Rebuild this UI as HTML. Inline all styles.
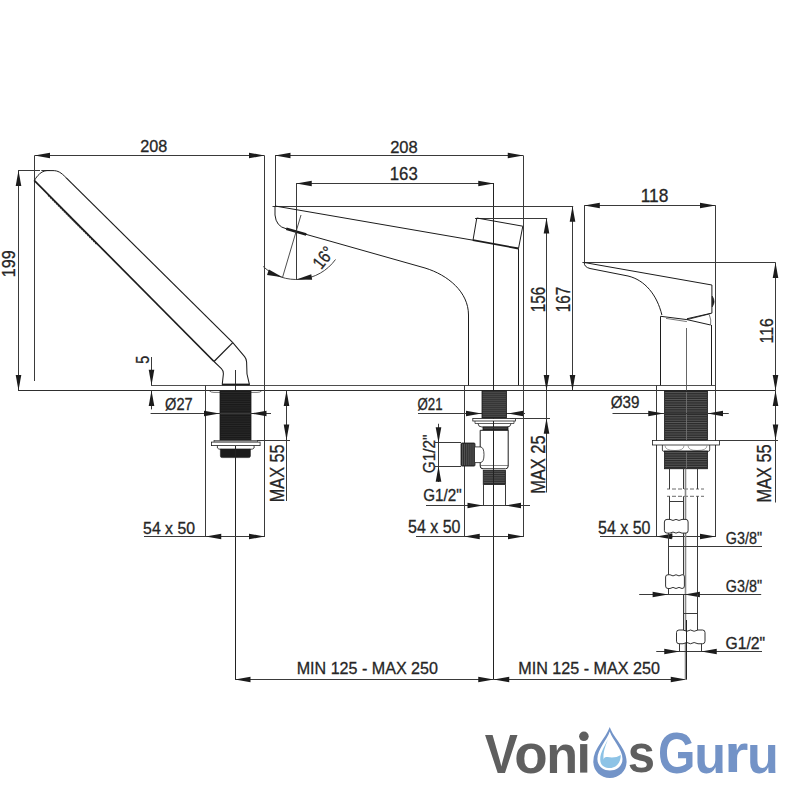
<!DOCTYPE html>
<html><head><meta charset="utf-8"><style>
html,body{margin:0;padding:0;background:#fff;width:800px;height:800px;overflow:hidden}
svg{display:block}
text{font-family:"Liberation Sans",sans-serif}
</style></head><body>
<svg width="800" height="800" viewBox="0 0 800 800">
<rect width="800" height="800" fill="#fff"/>
<line x1="151" y1="385.5" x2="715.6" y2="385.5" stroke="#3a3a3a" stroke-width="0.9"/>
<line x1="18" y1="390.5" x2="775.6" y2="390.5" stroke="#2e2e2e" stroke-width="1"/>
<line x1="34.5" y1="155.5" x2="264.5" y2="155.5" stroke="#3a3a3a" stroke-width="1"/>
<path d="M34.5,155.5 L50,152.7 L50,158.3 Z" fill="#1c1c1c"/>
<path d="M264.5,155.5 L249,158.3 L249,152.7 Z" fill="#1c1c1c"/>
<text transform="translate(140.19,152.34) scale(1.0173,1)" font-size="15.915" fill="#262626" stroke="#262626" stroke-width="0.3">208</text>
<line x1="34.5" y1="155.6" x2="34.5" y2="381" stroke="#3a3a3a" stroke-width="1"/>
<line x1="264.5" y1="155.6" x2="264.5" y2="537" stroke="#3a3a3a" stroke-width="1"/>
<line x1="18.5" y1="170.5" x2="18.5" y2="390.6" stroke="#3a3a3a" stroke-width="1"/>
<path d="M18.5,170.5 L21.3,186 L15.7,186 Z" fill="#1c1c1c"/>
<path d="M18.5,390.6 L15.7,375.1 L21.3,375.1 Z" fill="#1c1c1c"/>
<line x1="18" y1="170.5" x2="40" y2="170.5" stroke="#3a3a3a" stroke-width="1"/>
<line x1="41.3" y1="170.5" x2="50" y2="170.5" stroke="#3a3a3a" stroke-width="1"/>
<text transform="translate(15.31,277.21) rotate(-90) scale(0.8510,1)" font-size="19.014" fill="#262626" stroke="#262626" stroke-width="0.3">199</text>
<path d="M66,177.6 L232.8,342.6" stroke="#1c1c1c" stroke-width="1.15" fill="none"/>
<path d="M34.2,180.3 L214,361.5" stroke="#1c1c1c" stroke-width="1.7" fill="none"/>
<path d="M34.5,180.3 C37,176 41,171 47,170.6 L53,170.6 C58,170.6 61,172.5 66,177.6" stroke="#1c1c1c" stroke-width="1" fill="none"/>
<path d="M48,195.4 L97.5,245.2" stroke="#1c1c1c" stroke-width="1.1" fill="none" stroke-dasharray="1.5,1.3"/>
<path d="M214,361.5 L232.8,342.6" stroke="#1c1c1c" stroke-width="1.25" fill="none"/>
<path d="M232.8,342.6 L244.6,356.6 Q246.5,359 246.6,362 L247,374 L249.5,384.8" stroke="#1c1c1c" stroke-width="1.05" fill="none"/>
<path d="M214,361.5 L221.4,368.6 Q223.6,370.8 223.4,373.8 L222.2,384.8" stroke="#1c1c1c" stroke-width="1.05" fill="none"/>
<line x1="222" y1="384.5" x2="249.5" y2="384.5" stroke="#1c1c1c" stroke-width="1.8"/>
<line x1="235.5" y1="370" x2="235.5" y2="390.6" stroke="#1c1c1c" stroke-width="0.9"/>
<line x1="205.5" y1="385.3" x2="205.5" y2="537" stroke="#3a3a3a" stroke-width="1"/>
<path d="M209.5,391 Q211,392.4 214,392.4 L257,392.4 Q260,392.4 261.5,391" stroke="#1c1c1c" stroke-width="0.6" fill="none"/>
<rect x="220" y="391" width="31" height="49.8" fill="#1b1b1b" stroke="#1c1c1c" stroke-width="0.8"/>
<line x1="220.6" y1="392.54" x2="250.4" y2="392.54" stroke="#3a3a3a" stroke-width="0.45"/>
<line x1="220.6" y1="394.74" x2="250.4" y2="394.74" stroke="#3a3a3a" stroke-width="0.45"/>
<line x1="220.6" y1="396.94" x2="250.4" y2="396.94" stroke="#3a3a3a" stroke-width="0.45"/>
<line x1="220.6" y1="399.14" x2="250.4" y2="399.14" stroke="#3a3a3a" stroke-width="0.45"/>
<line x1="220.6" y1="401.34" x2="250.4" y2="401.34" stroke="#3a3a3a" stroke-width="0.45"/>
<line x1="220.6" y1="403.54" x2="250.4" y2="403.54" stroke="#3a3a3a" stroke-width="0.45"/>
<line x1="220.6" y1="405.74" x2="250.4" y2="405.74" stroke="#3a3a3a" stroke-width="0.45"/>
<line x1="220.6" y1="407.94" x2="250.4" y2="407.94" stroke="#3a3a3a" stroke-width="0.45"/>
<line x1="220.6" y1="410.14" x2="250.4" y2="410.14" stroke="#3a3a3a" stroke-width="0.45"/>
<line x1="220.6" y1="412.34" x2="250.4" y2="412.34" stroke="#3a3a3a" stroke-width="0.45"/>
<line x1="220.6" y1="414.54" x2="250.4" y2="414.54" stroke="#3a3a3a" stroke-width="0.45"/>
<line x1="220.6" y1="416.74" x2="250.4" y2="416.74" stroke="#3a3a3a" stroke-width="0.45"/>
<line x1="220.6" y1="418.94" x2="250.4" y2="418.94" stroke="#3a3a3a" stroke-width="0.45"/>
<line x1="220.6" y1="421.14" x2="250.4" y2="421.14" stroke="#3a3a3a" stroke-width="0.45"/>
<line x1="220.6" y1="423.34" x2="250.4" y2="423.34" stroke="#3a3a3a" stroke-width="0.45"/>
<line x1="220.6" y1="425.54" x2="250.4" y2="425.54" stroke="#3a3a3a" stroke-width="0.45"/>
<line x1="220.6" y1="427.74" x2="250.4" y2="427.74" stroke="#3a3a3a" stroke-width="0.45"/>
<line x1="220.6" y1="429.94" x2="250.4" y2="429.94" stroke="#3a3a3a" stroke-width="0.45"/>
<line x1="220.6" y1="432.14" x2="250.4" y2="432.14" stroke="#3a3a3a" stroke-width="0.45"/>
<line x1="220.6" y1="434.34" x2="250.4" y2="434.34" stroke="#3a3a3a" stroke-width="0.45"/>
<line x1="220.6" y1="436.54" x2="250.4" y2="436.54" stroke="#3a3a3a" stroke-width="0.45"/>
<line x1="220.6" y1="438.74" x2="250.4" y2="438.74" stroke="#3a3a3a" stroke-width="0.45"/>
<rect x="214" y="440.4" width="43.5" height="1.6" fill="#fff" stroke="#1c1c1c" stroke-width="0.6"/>
<rect x="211.4" y="442.1" width="48.7" height="3.5" fill="#fff" stroke="#1c1c1c" stroke-width="0.8"/>
<path d="M217.4,445.6 L217.4,448 Q218,449.4 222,449.4 L249,449.4 Q253.5,449.4 254.1,448 L254.1,445.6" stroke="#1c1c1c" stroke-width="0.8" fill="none"/>
<path d="M220.4,449 L250.4,449 L250.4,456 Q250.4,457.6 248.5,457.6 L222.3,457.6 Q220.4,457.6 220.4,456 Z" stroke="#1c1c1c" stroke-width="0.6" fill="#1b1b1b"/>
<line x1="235.5" y1="446" x2="235.5" y2="679.25" stroke="#222" stroke-width="1"/>
<line x1="151.5" y1="357" x2="151.5" y2="385.3" stroke="#3a3a3a" stroke-width="1"/>
<path d="M151.5,385.3 L148.7,369.8 L154.3,369.8 Z" fill="#1c1c1c"/>
<line x1="151.5" y1="390.6" x2="151.5" y2="409.4" stroke="#3a3a3a" stroke-width="1"/>
<path d="M151.5,390.6 L154.3,406.1 L148.7,406.1 Z" fill="#1c1c1c"/>
<text transform="translate(148.81,363.68) rotate(-90) scale(0.7533,1)" font-size="19.143" fill="#262626" stroke="#262626" stroke-width="0.3">5</text>
<line x1="150.6" y1="413.5" x2="271" y2="413.5" stroke="#3a3a3a" stroke-width="1"/>
<path d="M219.5,413.5 L204,416.3 L204,410.7 Z" fill="#1c1c1c"/>
<path d="M251,413.5 L266.5,410.7 L266.5,416.3 Z" fill="#1c1c1c"/>
<text transform="translate(165.09,410.18) scale(0.8684,1)" font-size="16.779" fill="#262626" stroke="#262626" stroke-width="0.3">Ø27</text>
<line x1="286.5" y1="390.6" x2="286.5" y2="501" stroke="#3a3a3a" stroke-width="1"/>
<path d="M286.5,390.6 L289.3,406.1 L283.7,406.1 Z" fill="#1c1c1c"/>
<path d="M286.5,440 L283.7,424.5 L289.3,424.5 Z" fill="#1c1c1c"/>
<line x1="257" y1="440.5" x2="290" y2="440.5" stroke="#3a3a3a" stroke-width="1"/>
<text transform="translate(283.55,502.3) rotate(-90) scale(0.8008,1)" font-size="20.357" fill="#262626" stroke="#262626" stroke-width="0.3">MAX 55</text>
<line x1="144" y1="536.5" x2="264.5" y2="536.5" stroke="#3a3a3a" stroke-width="1"/>
<path d="M205.75,536.5 L221.25,533.7 L221.25,539.3 Z" fill="#1c1c1c"/>
<path d="M264.5,536.5 L249,539.3 L249,533.7 Z" fill="#1c1c1c"/>
<text transform="translate(143.12,533.84) scale(0.9776,1)" font-size="16.197" fill="#262626" stroke="#262626" stroke-width="0.3">54 x 50</text>
<line x1="235" y1="679.5" x2="493.75" y2="679.5" stroke="#3a3a3a" stroke-width="1"/>
<path d="M235,679.5 L250.5,676.7 L250.5,682.3 Z" fill="#1c1c1c"/>
<path d="M493.75,679.5 L478.25,682.3 L478.25,676.7 Z" fill="#1c1c1c"/>
<text transform="translate(296.71,674.08) scale(0.9331,1)" font-size="17.254" fill="#262626" stroke="#262626" stroke-width="0.3">MIN 125 - MAX 250</text>
<line x1="275" y1="155.5" x2="523.25" y2="155.5" stroke="#3a3a3a" stroke-width="1"/>
<path d="M275,155.5 L290.5,152.7 L290.5,158.3 Z" fill="#1c1c1c"/>
<path d="M523.25,155.5 L507.75,158.3 L507.75,152.7 Z" fill="#1c1c1c"/>
<text transform="translate(390.17,152.83) scale(0.9767,1)" font-size="16.901" fill="#262626" stroke="#262626" stroke-width="0.3">208</text>
<line x1="275.5" y1="155.5" x2="275.5" y2="206" stroke="#3a3a3a" stroke-width="1"/>
<line x1="523.5" y1="155.5" x2="523.5" y2="537" stroke="#3a3a3a" stroke-width="1"/>
<line x1="296.25" y1="183.5" x2="493.75" y2="183.5" stroke="#3a3a3a" stroke-width="1"/>
<path d="M296.25,183.5 L311.75,180.7 L311.75,186.3 Z" fill="#1c1c1c"/>
<path d="M493.75,183.5 L478.25,186.3 L478.25,180.7 Z" fill="#1c1c1c"/>
<text transform="translate(389.74,179.82) scale(0.9528,1)" font-size="17.606" fill="#262626" stroke="#262626" stroke-width="0.3">163</text>
<line x1="296.5" y1="183" x2="296.5" y2="280" stroke="#3a3a3a" stroke-width="1"/>
<line x1="493.5" y1="183" x2="493.5" y2="679.25" stroke="#222" stroke-width="1"/>
<line x1="272.5" y1="206.5" x2="573.2" y2="206.5" stroke="#3a3a3a" stroke-width="1"/>
<line x1="572.5" y1="206.25" x2="572.5" y2="390.6" stroke="#3a3a3a" stroke-width="1"/>
<path d="M572.5,206.25 L575.3,221.75 L569.7,221.75 Z" fill="#1c1c1c"/>
<path d="M572.5,390.6 L569.7,375.1 L575.3,375.1 Z" fill="#1c1c1c"/>
<text transform="translate(569.8,312.14) rotate(-90) scale(0.7739,1)" font-size="19.718" fill="#262626" stroke="#262626" stroke-width="0.3">167</text>
<line x1="475" y1="218.5" x2="547.2" y2="218.5" stroke="#3a3a3a" stroke-width="1"/>
<line x1="546.5" y1="218" x2="546.5" y2="390.6" stroke="#3a3a3a" stroke-width="1"/>
<path d="M546.5,218 L549.3,233.5 L543.7,233.5 Z" fill="#1c1c1c"/>
<path d="M546.5,390.6 L543.7,375.1 L549.3,375.1 Z" fill="#1c1c1c"/>
<text transform="translate(544.8,312.14) rotate(-90) scale(0.7689,1)" font-size="19.718" fill="#262626" stroke="#262626" stroke-width="0.3">156</text>
<path d="M275,206 L473,240.2" stroke="#1c1c1c" stroke-width="1" fill="none"/>
<path d="M476.8,218 L522.8,226.2 L518.5,248.5" stroke="#1c1c1c" stroke-width="1" fill="none"/>
<path d="M476.8,218 L473,240.2" stroke="#1c1c1c" stroke-width="1" fill="none"/>
<path d="M473,240.2 L518.5,248.5" stroke="#1c1c1c" stroke-width="1.8" fill="none"/>
<path d="M275,206 L275,215 Q276,226.5 286.25,228.75" stroke="#1c1c1c" stroke-width="1" fill="none"/>
<path d="M286.25,228.75 L425,268 C448,275 468.5,292 468.5,315 L468.5,385.3" stroke="#1c1c1c" stroke-width="1" fill="none"/>
<path d="M286.25,228.75 L306.25,234.4" stroke="#1c1c1c" stroke-width="2.6" fill="none"/>
<line x1="518.5" y1="248.5" x2="518.5" y2="385.3" stroke="#1c1c1c" stroke-width="1"/>
<line x1="301" y1="215" x2="282.5" y2="277.5" stroke="#3a3a3a" stroke-width="0.9"/>
<path d="M263.17,266.47 A48.5,48.5 0 0 0 335.49,259.51" stroke="#3a3a3a" stroke-width="0.95" fill="none"/>
<path d="M282.6,277.3 L267.03,274.9 L268.86,269.61 Z" fill="#1c1c1c"/>
<path d="M296.4,279.4 L311.27,274.21 L312.15,279.74 Z" fill="#1c1c1c"/>
<text transform="translate(323.4,257.5) rotate(-52) translate(-11.42,6.22) scale(0.8310,1)" font-size="18.028" fill="#262626" stroke="#262626" stroke-width="0.3">16°</text>
<line x1="418" y1="413.5" x2="525" y2="413.5" stroke="#3a3a3a" stroke-width="1"/>
<path d="M481.5,413.5 L466,416.3 L466,410.7 Z" fill="#1c1c1c"/>
<path d="M507.5,413.5 L523,410.7 L523,416.3 Z" fill="#1c1c1c"/>
<text transform="translate(417.54,410.11) scale(0.8407,1)" font-size="15.772" fill="#262626" stroke="#262626" stroke-width="0.3">Ø21</text>
<line x1="464.5" y1="385.3" x2="464.5" y2="537" stroke="#3a3a3a" stroke-width="1"/>
<rect x="482" y="390.8" width="24.5" height="27.2" fill="#2a2a2a" stroke="#1c1c1c" stroke-width="0.8"/>
<line x1="482.6" y1="392.2" x2="505.9" y2="392.2" stroke="#8a8a8a" stroke-width="0.45"/>
<line x1="482.6" y1="394.2" x2="505.9" y2="394.2" stroke="#8a8a8a" stroke-width="0.45"/>
<line x1="482.6" y1="396.2" x2="505.9" y2="396.2" stroke="#8a8a8a" stroke-width="0.45"/>
<line x1="482.6" y1="398.2" x2="505.9" y2="398.2" stroke="#8a8a8a" stroke-width="0.45"/>
<line x1="482.6" y1="400.2" x2="505.9" y2="400.2" stroke="#8a8a8a" stroke-width="0.45"/>
<line x1="482.6" y1="402.2" x2="505.9" y2="402.2" stroke="#8a8a8a" stroke-width="0.45"/>
<line x1="482.6" y1="404.2" x2="505.9" y2="404.2" stroke="#8a8a8a" stroke-width="0.45"/>
<line x1="482.6" y1="406.2" x2="505.9" y2="406.2" stroke="#8a8a8a" stroke-width="0.45"/>
<line x1="482.6" y1="408.2" x2="505.9" y2="408.2" stroke="#8a8a8a" stroke-width="0.45"/>
<line x1="482.6" y1="410.2" x2="505.9" y2="410.2" stroke="#8a8a8a" stroke-width="0.45"/>
<line x1="482.6" y1="412.2" x2="505.9" y2="412.2" stroke="#8a8a8a" stroke-width="0.45"/>
<line x1="482.6" y1="414.2" x2="505.9" y2="414.2" stroke="#8a8a8a" stroke-width="0.45"/>
<line x1="482.6" y1="416.2" x2="505.9" y2="416.2" stroke="#8a8a8a" stroke-width="0.45"/>
<rect x="472.8" y="418.5" width="42.7" height="2.5" fill="#fff" stroke="#1c1c1c" stroke-width="0.8"/>
<path d="M475,421 L475,423.5 L514,423.5 L514,421" stroke="#1c1c1c" stroke-width="0.7" fill="none"/>
<path d="M478,423.5 Q478,427 482,427 L507,427 Q511,427 511,423.5" stroke="#1c1c1c" stroke-width="0.8" fill="none"/>
<rect x="483" y="427" width="25" height="3.3" fill="#2a2a2a" stroke="#1c1c1c" stroke-width="0.8"/>
<line x1="483.6" y1="428.12" x2="507.4" y2="428.12" stroke="#777" stroke-width="0.45"/>
<path d="M480.2,430.3 L480.2,466 Q480.2,468.8 483,468.8 L505.5,468.8 Q508.2,468.8 508.2,466 L508.2,430.3 Z" stroke="#1c1c1c" stroke-width="1" fill="#fff"/>
<line x1="480.2" y1="465.5" x2="508.2" y2="465.5" stroke="#3a3a3a" stroke-width="0.6"/>
<line x1="493.5" y1="428" x2="493.5" y2="490" stroke="#222" stroke-width="1"/>
<rect x="461" y="443" width="14" height="23.1" fill="#2a2a2a" stroke="#1c1c1c" stroke-width="0.8" rx="1"/>
<line x1="462.52" y1="443.8" x2="462.52" y2="465.3" stroke="#8a8a8a" stroke-width="0.45"/>
<line x1="464.42" y1="443.8" x2="464.42" y2="465.3" stroke="#8a8a8a" stroke-width="0.45"/>
<line x1="466.32" y1="443.8" x2="466.32" y2="465.3" stroke="#8a8a8a" stroke-width="0.45"/>
<line x1="468.22" y1="443.8" x2="468.22" y2="465.3" stroke="#8a8a8a" stroke-width="0.45"/>
<line x1="470.12" y1="443.8" x2="470.12" y2="465.3" stroke="#8a8a8a" stroke-width="0.45"/>
<line x1="472.02" y1="443.8" x2="472.02" y2="465.3" stroke="#8a8a8a" stroke-width="0.45"/>
<line x1="473.92" y1="443.8" x2="473.92" y2="465.3" stroke="#8a8a8a" stroke-width="0.45"/>
<path d="M475,446.9 L480.2,446.9 Q484,447 484,454.7 Q484,462.5 480.2,462.6 L475,462.6" stroke="#1c1c1c" stroke-width="0.8" fill="#fff"/>
<rect x="483.25" y="470.5" width="22.15" height="14" fill="#2a2a2a" stroke="#1c1c1c" stroke-width="0.8"/>
<line x1="483.85" y1="471.76" x2="504.8" y2="471.76" stroke="#888" stroke-width="0.45"/>
<line x1="483.85" y1="473.56" x2="504.8" y2="473.56" stroke="#888" stroke-width="0.45"/>
<line x1="483.85" y1="475.36" x2="504.8" y2="475.36" stroke="#888" stroke-width="0.45"/>
<line x1="483.85" y1="477.16" x2="504.8" y2="477.16" stroke="#888" stroke-width="0.45"/>
<line x1="483.85" y1="478.96" x2="504.8" y2="478.96" stroke="#888" stroke-width="0.45"/>
<line x1="483.85" y1="480.76" x2="504.8" y2="480.76" stroke="#888" stroke-width="0.45"/>
<line x1="483.85" y1="482.56" x2="504.8" y2="482.56" stroke="#888" stroke-width="0.45"/>
<line x1="483.5" y1="484.5" x2="483.5" y2="505" stroke="#3a3a3a" stroke-width="1"/>
<line x1="505.5" y1="484.5" x2="505.5" y2="505" stroke="#3a3a3a" stroke-width="1"/>
<line x1="493.5" y1="468" x2="493.5" y2="679.25" stroke="#222" stroke-width="1"/>
<line x1="438.5" y1="423.75" x2="438.5" y2="482" stroke="#3a3a3a" stroke-width="1"/>
<path d="M438.5,442.7 L435.7,427.2 L441.3,427.2 Z" fill="#1c1c1c"/>
<path d="M438.5,466.2 L441.3,481.7 L435.7,481.7 Z" fill="#1c1c1c"/>
<line x1="435" y1="442.5" x2="461" y2="442.5" stroke="#3a3a3a" stroke-width="1"/>
<line x1="435" y1="466.5" x2="461" y2="466.5" stroke="#3a3a3a" stroke-width="1"/>
<text transform="translate(434.84,473.27) rotate(-90) scale(0.9433,1)" font-size="16.327" fill="#262626" stroke="#262626" stroke-width="0.3">G1/2&quot;</text>
<line x1="546.5" y1="390.6" x2="546.5" y2="492.5" stroke="#3a3a3a" stroke-width="1"/>
<path d="M546.5,418.3 L549.3,433.8 L543.7,433.8 Z" fill="#1c1c1c"/>
<line x1="510" y1="418.5" x2="550" y2="418.5" stroke="#3a3a3a" stroke-width="1"/>
<text transform="translate(544.8,493.82) rotate(-90) scale(0.8342,1)" font-size="19.718" fill="#262626" stroke="#262626" stroke-width="0.3">MAX 25</text>
<line x1="426" y1="505.5" x2="530" y2="505.5" stroke="#3a3a3a" stroke-width="1"/>
<path d="M483,505.5 L467.5,508.3 L467.5,502.7 Z" fill="#1c1c1c"/>
<path d="M505.5,505.5 L521,502.7 L521,508.3 Z" fill="#1c1c1c"/>
<text transform="translate(423.24,501.09) scale(0.9505,1)" font-size="15.986" fill="#262626" stroke="#262626" stroke-width="0.3">G1/2&quot;</text>
<line x1="416" y1="536.5" x2="523.5" y2="536.5" stroke="#3a3a3a" stroke-width="1"/>
<path d="M464.25,536.5 L479.75,533.7 L479.75,539.3 Z" fill="#1c1c1c"/>
<path d="M523.5,536.5 L508,539.3 L508,533.7 Z" fill="#1c1c1c"/>
<text transform="translate(408.11,532.82) scale(0.9083,1)" font-size="17.606" fill="#262626" stroke="#262626" stroke-width="0.3">54 x 50</text>
<line x1="493.75" y1="679.5" x2="686.25" y2="679.5" stroke="#3a3a3a" stroke-width="1"/>
<path d="M493.75,679.5 L509.25,676.7 L509.25,682.3 Z" fill="#1c1c1c"/>
<path d="M686.25,679.5 L670.75,682.3 L670.75,676.7 Z" fill="#1c1c1c"/>
<text transform="translate(518.21,674.08) scale(0.9364,1)" font-size="17.254" fill="#262626" stroke="#262626" stroke-width="0.3">MIN 125 - MAX 250</text>
<line x1="584.3" y1="205.5" x2="715.5" y2="205.5" stroke="#3a3a3a" stroke-width="1"/>
<path d="M584.3,205.5 L599.8,202.7 L599.8,208.3 Z" fill="#1c1c1c"/>
<path d="M715.5,205.5 L700,208.3 L700,202.7 Z" fill="#1c1c1c"/>
<text transform="translate(640.7,201.83) scale(0.9904,1)" font-size="17.465" fill="#262626" stroke="#262626" stroke-width="0.3">118</text>
<line x1="584.5" y1="205.3" x2="584.5" y2="262.5" stroke="#3a3a3a" stroke-width="1"/>
<line x1="715.5" y1="205.3" x2="715.5" y2="537" stroke="#3a3a3a" stroke-width="1"/>
<line x1="582.4" y1="262.5" x2="775.6" y2="262.5" stroke="#3a3a3a" stroke-width="1"/>
<line x1="775.5" y1="262.5" x2="775.5" y2="390.6" stroke="#3a3a3a" stroke-width="1"/>
<path d="M775.5,262.5 L778.3,278 L772.7,278 Z" fill="#1c1c1c"/>
<path d="M775.5,390.6 L772.7,375.1 L778.3,375.1 Z" fill="#1c1c1c"/>
<text transform="translate(772.81,343.49) rotate(-90) scale(0.8504,1)" font-size="18.592" fill="#262626" stroke="#262626" stroke-width="0.3">116</text>
<path d="M584.3,262.5 L711.9,285 L711.9,313.1 L686.9,318.75" stroke="#1c1c1c" stroke-width="1" fill="none"/>
<path d="M584.3,262.5 Q584,267 590,268.5 L628,276 C645,280 657,295 661.9,315" stroke="#1c1c1c" stroke-width="1" fill="none"/>
<path d="M712.2,296 Q716,301.5 712.2,307 Z" stroke="#1c1c1c" stroke-width="0.6" fill="#1c1c1c"/>
<path d="M660.6,316.3 L686.9,319.6 L710.6,325" stroke="#1c1c1c" stroke-width="1" fill="none"/>
<path d="M666,318.4 L686.9,321.6" stroke="#1c1c1c" stroke-width="0.6" fill="none"/>
<path d="M686.9,319.6 L710.6,313.6" stroke="#1c1c1c" stroke-width="0.9" fill="none"/>
<path d="M709.4,315 Q711.5,320 710.6,325" stroke="#1c1c1c" stroke-width="0.6" fill="none"/>
<line x1="660.5" y1="316.3" x2="660.5" y2="385.3" stroke="#1c1c1c" stroke-width="1"/>
<line x1="711.5" y1="325" x2="711.5" y2="385.3" stroke="#1c1c1c" stroke-width="1"/>
<line x1="686.5" y1="328" x2="686.5" y2="391" stroke="#555" stroke-width="0.9"/>
<line x1="656.5" y1="385.3" x2="656.5" y2="537" stroke="#3a3a3a" stroke-width="1"/>
<rect x="664.5" y="391" width="43" height="49" fill="#2c2c2c" stroke="#1c1c1c" stroke-width="0.8"/>
<line x1="665.1" y1="392.61" x2="706.9" y2="392.61" stroke="#8c8c8c" stroke-width="0.45"/>
<line x1="665.1" y1="394.91" x2="706.9" y2="394.91" stroke="#8c8c8c" stroke-width="0.45"/>
<line x1="665.1" y1="397.21" x2="706.9" y2="397.21" stroke="#8c8c8c" stroke-width="0.45"/>
<line x1="665.1" y1="399.51" x2="706.9" y2="399.51" stroke="#8c8c8c" stroke-width="0.45"/>
<line x1="665.1" y1="401.81" x2="706.9" y2="401.81" stroke="#8c8c8c" stroke-width="0.45"/>
<line x1="665.1" y1="404.11" x2="706.9" y2="404.11" stroke="#8c8c8c" stroke-width="0.45"/>
<line x1="665.1" y1="406.41" x2="706.9" y2="406.41" stroke="#8c8c8c" stroke-width="0.45"/>
<line x1="665.1" y1="408.71" x2="706.9" y2="408.71" stroke="#8c8c8c" stroke-width="0.45"/>
<line x1="665.1" y1="411.01" x2="706.9" y2="411.01" stroke="#8c8c8c" stroke-width="0.45"/>
<line x1="665.1" y1="413.31" x2="706.9" y2="413.31" stroke="#8c8c8c" stroke-width="0.45"/>
<line x1="665.1" y1="415.61" x2="706.9" y2="415.61" stroke="#8c8c8c" stroke-width="0.45"/>
<line x1="665.1" y1="417.91" x2="706.9" y2="417.91" stroke="#8c8c8c" stroke-width="0.45"/>
<line x1="665.1" y1="420.21" x2="706.9" y2="420.21" stroke="#8c8c8c" stroke-width="0.45"/>
<line x1="665.1" y1="422.51" x2="706.9" y2="422.51" stroke="#8c8c8c" stroke-width="0.45"/>
<line x1="665.1" y1="424.81" x2="706.9" y2="424.81" stroke="#8c8c8c" stroke-width="0.45"/>
<line x1="665.1" y1="427.11" x2="706.9" y2="427.11" stroke="#8c8c8c" stroke-width="0.45"/>
<line x1="665.1" y1="429.41" x2="706.9" y2="429.41" stroke="#8c8c8c" stroke-width="0.45"/>
<line x1="665.1" y1="431.71" x2="706.9" y2="431.71" stroke="#8c8c8c" stroke-width="0.45"/>
<line x1="665.1" y1="434.01" x2="706.9" y2="434.01" stroke="#8c8c8c" stroke-width="0.45"/>
<line x1="665.1" y1="436.31" x2="706.9" y2="436.31" stroke="#8c8c8c" stroke-width="0.45"/>
<line x1="665.1" y1="438.61" x2="706.9" y2="438.61" stroke="#8c8c8c" stroke-width="0.45"/>
<rect x="652.5" y="440.5" width="67" height="4.5" fill="#fff" stroke="#1c1c1c" stroke-width="0.8"/>
<path d="M662.4,445 L662.4,450 Q662.4,451.4 664,451.4 L708,451.4 Q709.7,451.4 709.7,450 L709.7,445" stroke="#1c1c1c" stroke-width="0.8" fill="none"/>
<path d="M665,445.5 Q665,450.5 675,450.5 Q684,450.5 684,445.5 M688,445.5 Q688,450.5 697,450.5 Q707,450.5 707,445.5" stroke="#666" stroke-width="0.6" fill="none"/>
<rect x="664.5" y="451" width="43" height="17.75" fill="#2c2c2c" stroke="#1c1c1c" stroke-width="0.8"/>
<line x1="665.1" y1="452.61" x2="706.9" y2="452.61" stroke="#8c8c8c" stroke-width="0.45"/>
<line x1="665.1" y1="454.91" x2="706.9" y2="454.91" stroke="#8c8c8c" stroke-width="0.45"/>
<line x1="665.1" y1="457.21" x2="706.9" y2="457.21" stroke="#8c8c8c" stroke-width="0.45"/>
<line x1="665.1" y1="459.51" x2="706.9" y2="459.51" stroke="#8c8c8c" stroke-width="0.45"/>
<line x1="665.1" y1="461.81" x2="706.9" y2="461.81" stroke="#8c8c8c" stroke-width="0.45"/>
<line x1="665.1" y1="464.11" x2="706.9" y2="464.11" stroke="#8c8c8c" stroke-width="0.45"/>
<line x1="665.1" y1="466.41" x2="706.9" y2="466.41" stroke="#8c8c8c" stroke-width="0.45"/>
<line x1="686.5" y1="392" x2="686.5" y2="440" stroke="#777" stroke-width="0.8"/>
<line x1="686.5" y1="452" x2="686.5" y2="468" stroke="#777" stroke-width="0.8"/>
<line x1="612.5" y1="413.5" x2="728.75" y2="413.5" stroke="#3a3a3a" stroke-width="1"/>
<path d="M663.75,413.5 L648.25,416.3 L648.25,410.7 Z" fill="#1c1c1c"/>
<path d="M707.5,413.5 L723,410.7 L723,416.3 Z" fill="#1c1c1c"/>
<text transform="translate(610.72,408.33) scale(0.9055,1)" font-size="16.779" fill="#262626" stroke="#262626" stroke-width="0.3">Ø39</text>
<line x1="775.5" y1="390.6" x2="775.5" y2="502.5" stroke="#3a3a3a" stroke-width="1"/>
<path d="M775.5,390.6 L778.3,406.1 L772.7,406.1 Z" fill="#1c1c1c"/>
<path d="M775.5,440 L772.7,424.5 L778.3,424.5 Z" fill="#1c1c1c"/>
<line x1="719" y1="440.5" x2="778" y2="440.5" stroke="#3a3a3a" stroke-width="1"/>
<text transform="translate(771.05,502.56) rotate(-90) scale(0.8337,1)" font-size="19.643" fill="#262626" stroke="#262626" stroke-width="0.3">MAX 55</text>
<line x1="600" y1="536.5" x2="715.5" y2="536.5" stroke="#3a3a3a" stroke-width="1"/>
<path d="M656.25,536.5 L671.75,533.7 L671.75,539.3 Z" fill="#1c1c1c"/>
<path d="M715.5,536.5 L700,539.3 L700,533.7 Z" fill="#1c1c1c"/>
<text transform="translate(598.11,533.57) scale(0.9083,1)" font-size="17.606" fill="#262626" stroke="#262626" stroke-width="0.3">54 x 50</text>
<line x1="669.5" y1="468.75" x2="669.5" y2="489" stroke="#3a3a3a" stroke-width="1"/>
<line x1="683.5" y1="468.75" x2="683.5" y2="489" stroke="#3a3a3a" stroke-width="1"/>
<line x1="697.5" y1="468.75" x2="697.5" y2="489" stroke="#3a3a3a" stroke-width="1"/>
<path d="M667,489 h3 m2,0 h4 m2,0 h4 m2,0 h4 m2,0 h4 m2,0 h3 m2,0 h3" stroke="#444" stroke-width="0.8" fill="none"/>
<path d="M667,496.3 h3 m2,0 h4 m2,0 h4 m2,0 h4 m2,0 h4 m2,0 h3 m2,0 h3" stroke="#444" stroke-width="0.8" fill="none"/>
<line x1="669.5" y1="496.3" x2="669.5" y2="519.5" stroke="#3a3a3a" stroke-width="1"/>
<line x1="683.5" y1="496.3" x2="683.5" y2="519.5" stroke="#3a3a3a" stroke-width="1"/>
<line x1="669.4" y1="501.5" x2="683.2" y2="501.5" stroke="#3a3a3a" stroke-width="1"/>
<line x1="697.5" y1="496.3" x2="697.5" y2="594" stroke="#3a3a3a" stroke-width="1"/>
<line x1="685.5" y1="468.75" x2="685.5" y2="680" stroke="#8a8a8a" stroke-width="1.6"/>
<path d="M664.4,522 Q664.4,519.4 667,519.4 L670,519.4 Q673,521.5 676,519.4 Q679,521.5 682,519.4 L686,519.4 Q688.1,519.4 688.1,522 L688.1,530.5 Q688.1,533.1 686,533.1 L682,533.1 Q679,531 676,533.1 Q673,531 670,533.1 L667,533.1 Q664.4,533.1 664.4,530.5 Z" stroke="#1c1c1c" stroke-width="0.9" fill="#fff"/>
<line x1="668.5" y1="533.1" x2="668.5" y2="574.75" stroke="#3a3a3a" stroke-width="1"/>
<line x1="683.5" y1="533.1" x2="683.5" y2="574.75" stroke="#3a3a3a" stroke-width="1"/>
<line x1="671.5" y1="533.5" x2="671.5" y2="538.5" stroke="#1c1c1c" stroke-width="1.8"/>
<line x1="668.75" y1="546.5" x2="762" y2="546.5" stroke="#3a3a3a" stroke-width="1"/>
<text transform="translate(725.78,544.34) scale(0.8804,1)" font-size="16.327" fill="#262626" stroke="#262626" stroke-width="0.3">G3/8&quot;</text>
<path d="M665.6,577 Q665.6,574.75 668,574.75 L670,574.75 Q673,577 676,574.75 Q679,577 682,574.75 L683,574.75 Q684.4,574.75 684.4,577 L684.4,586 Q684.4,588.5 682,588.5 L682,588.5 Q679,586.3 676,588.5 Q673,586.3 670,588.5 L668,588.5 Q665.6,588.5 665.6,586 Z" stroke="#1c1c1c" stroke-width="0.9" fill="#fff"/>
<line x1="668.5" y1="588.5" x2="668.5" y2="594" stroke="#3a3a3a" stroke-width="1"/>
<line x1="639.2" y1="594.5" x2="761.2" y2="594.5" stroke="#3a3a3a" stroke-width="1"/>
<path d="M668.1,594.5 L652.6,597.3 L652.6,591.7 Z" fill="#1c1c1c"/>
<path d="M684.4,594.5 L699.9,591.7 L699.9,597.3 Z" fill="#1c1c1c"/>
<text transform="translate(725.78,591.63) scale(0.8520,1)" font-size="16.871" fill="#262626" stroke="#262626" stroke-width="0.3">G3/8&quot;</text>
<line x1="683.5" y1="594" x2="683.5" y2="630" stroke="#3a3a3a" stroke-width="1"/>
<line x1="697.5" y1="594" x2="697.5" y2="630" stroke="#3a3a3a" stroke-width="1"/>
<line x1="683.5" y1="613.5" x2="697.75" y2="613.5" stroke="#3a3a3a" stroke-width="1"/>
<path d="M676.5,632.5 Q676.5,630 679,630 L683,630 Q687,632.5 690.5,630 Q694,632.5 698,630 L702.5,630 Q705,630 705,632.5 L705,641.2 Q705,643.75 702.5,643.75 L698,643.75 Q694,641.3 690.5,643.75 Q687,641.3 683,643.75 L679,643.75 Q676.5,643.75 676.5,641.2 Z" stroke="#1c1c1c" stroke-width="0.9" fill="#fff"/>
<line x1="679.5" y1="643.75" x2="679.5" y2="652" stroke="#3a3a3a" stroke-width="1"/>
<line x1="701.5" y1="643.75" x2="701.5" y2="652" stroke="#3a3a3a" stroke-width="1"/>
<line x1="656.25" y1="651.5" x2="762" y2="651.5" stroke="#3a3a3a" stroke-width="1"/>
<path d="M679.75,651.5 L664.25,654.3 L664.25,648.7 Z" fill="#1c1c1c"/>
<path d="M701.25,651.5 L716.75,648.7 L716.75,654.3 Z" fill="#1c1c1c"/>
<text transform="translate(725.46,649.34) scale(1.0040,1)" font-size="15.646" fill="#262626" stroke="#262626" stroke-width="0.3">G1/2&quot;</text>
<line x1="686.5" y1="620" x2="686.5" y2="679.5" stroke="#222" stroke-width="1"/>
<text transform="translate(484.75,772.8) scale(0.8870,1)" font-size="55.942" fill="#5f5f5f" stroke="#5f5f5f" stroke-width="0" font-weight="bold">V</text>
<text transform="translate(514.31,772.95) scale(0.9867,1)" font-size="55.455" fill="#5f5f5f" stroke="#5f5f5f" stroke-width="0" font-weight="bold">o</text>
<text transform="translate(546.21,772.6) scale(0.9647,1)" font-size="54.074" fill="#5f5f5f" stroke="#5f5f5f" stroke-width="0" font-weight="bold">n</text>
<rect x="580.1" y="744.1" width="7.2" height="28.5" fill="#5f5f5f" stroke="none" stroke-width="0"/>
<circle cx="583.9" cy="736.3" r="4.8" fill="#5f5f5f"/>
<text transform="translate(627.79,771.98) scale(0.9448,1)" font-size="51.818" fill="#5f5f5f" stroke="#5f5f5f" stroke-width="0" font-weight="bold">s</text>
<text transform="translate(658.07,773.43) scale(0.8504,1)" font-size="56.620" fill="#7393c7" stroke="#7393c7" stroke-width="0" font-weight="bold">G</text>
<text transform="translate(694.17,772.86) scale(0.9614,1)" font-size="54.259" fill="#7393c7" stroke="#7393c7" stroke-width="0" font-weight="bold">u</text>
<text transform="translate(724.17,772.2) scale(1.1694,1)" font-size="52.963" fill="#7393c7" stroke="#7393c7" stroke-width="0" font-weight="bold">r</text>
<text transform="translate(747.07,772.86) scale(0.9614,1)" font-size="54.259" fill="#7393c7" stroke="#7393c7" stroke-width="0" font-weight="bold">u</text>

<path d="M609.75,726.9 C606,738 593.3,748 593.3,761.5 C593.3,771 600.5,778 609.9,778 C619.3,778 626.6,771 626.6,761.5 C626.6,748 613.5,738 609.75,726.9 Z" fill="#7394c8"/>
<path d="M609.75,731.5 C607,740 597.4,749 597.4,759 C597.4,766 603,770.5 609.9,770.5 C617,770.5 622.5,766 622.5,759 C622.5,749 612.5,740 609.75,731.5 Z" fill="#fff"/>
<path d="M609.3,736.5 C605,746 600.2,752 600.2,759.5 C600.2,765.5 604.5,768 610,768 C616,768 620.8,763 620.8,755 C617,757.5 612,758 607.5,757 C605,756.5 603.5,757.5 603.8,760 C602.5,754 605,746 609.3,736.5 Z" fill="#8dc3e6"/>

</svg>
</body></html>
